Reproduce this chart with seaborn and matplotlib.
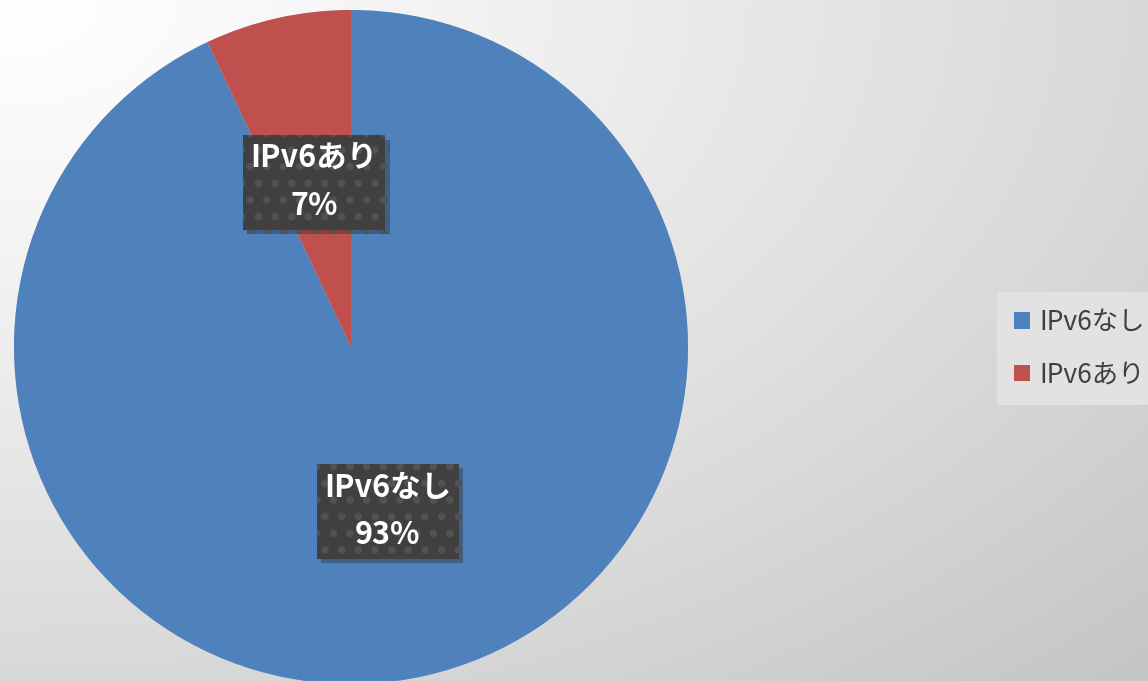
import numpy as np
import matplotlib
matplotlib.use("Agg")
import matplotlib.pyplot as plt
import matplotlib.patheffects as pe
import seaborn as sns
from matplotlib.patches import Patch

categories = ["IPv6なし", "IPv6あり"]
values = [93, 7]
colors = ["#4F81BD", "#C0504D"]

sns.set_theme(style="white")
plt.rcParams["font.family"] = ["Noto Sans CJK JP", "DejaVu Sans"]
plt.rcParams["hatch.linewidth"] = 3.0

W, H = 1148, 681
fig = plt.figure(figsize=(W / 100, H / 100), dpi=100)

# background radial gradient
bg = fig.add_axes([0, 0, 1, 1], zorder=0)
yy, xx = np.mgrid[0:H, 0:W]
d = np.sqrt((xx / W) ** 2 + (yy / H) ** 2) / np.sqrt(2)
g = 1.0 - 0.23 * np.clip(d, 0, 1) ** 1.2
bg.imshow(np.dstack([g, g, g]), aspect="auto", extent=[0, 1, 0, 1], origin="upper")
bg.set_axis_off()

cx, cy, r = 351, 347, 337
ax = fig.add_axes([(cx - r) / W, (H - cy - r) / H, 2 * r / W, 2 * r / H], zorder=1)
ax.patch.set_alpha(0)
wedges, _ = ax.pie(values, colors=colors, startangle=90, counterclock=False,
                   radius=1.0, wedgeprops=dict(linewidth=0))
for w in wedges:
    w.set_path_effects([pe.SimplePatchShadow(offset=(0, 0), shadow_rgbFace="#999999", alpha=0.5),
                        pe.Normal()])
ax.set_xlim(-1, 1)
ax.set_ylim(-1, 1)
ax.set_aspect("equal")
ax.set_axis_off()

total = sum(values)
for w, cat, v in zip(wedges, categories, values):
    ang = np.deg2rad((w.theta1 + w.theta2) / 2)
    x, y = 0.5 * np.cos(ang), 0.5 * np.sin(ang)
    t = ax.text(x, y, f"{cat}\n{v / total * 100:.0f}%", ha="center", va="center",
                color="white", fontsize=22, fontweight="bold", linespacing=1.6,
                bbox=dict(boxstyle="square,pad=0.25", facecolor="#404040",
                          edgecolor="#525252", hatch=".", linewidth=0))
    t.get_bbox_patch().set_path_effects([pe.SimplePatchShadow(offset=(3, -3), alpha=0.35,
                                                              shadow_rgbFace="#222222"),
                                         pe.Normal()])

handles = [Patch(facecolor=c, edgecolor="none") for c in colors]
leg = fig.legend(handles, categories, loc="upper left",
                 bbox_to_anchor=(997 / W, 1 - 292 / H), frameon=True,
                 fontsize=19, handlelength=0.6, handleheight=0.6, handletextpad=0.35,
                 labelspacing=0.95, borderpad=0.65, borderaxespad=0, fancybox=False)
leg.get_frame().set_facecolor("#e2e2e2")
leg.get_frame().set_edgecolor("none")
leg.get_frame().set_alpha(1)
for txt in leg.get_texts():
    txt.set_color("#404040")

fig.savefig("out.png", dpi=100)
